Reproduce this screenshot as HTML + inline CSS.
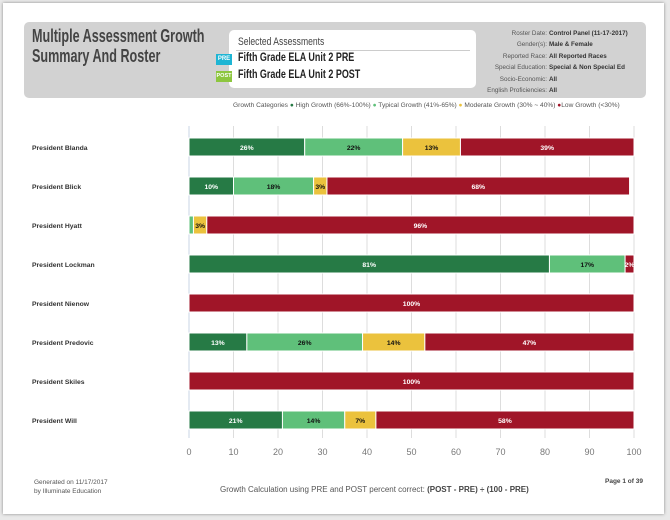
<!DOCTYPE html>
<html><head><meta charset="utf-8">
<style>
body{margin:0;width:670px;height:520px;background:#e9e9e9;font-family:"Liberation Sans",sans-serif;overflow:hidden;position:relative}
.page{position:absolute;left:3px;top:3px;width:661px;height:511px;background:#fff;box-shadow:0 0 3px #888}
.abs{position:absolute;white-space:nowrap}
.cond{transform-origin:0 0;transform:scaleX(0.78)}
</style></head><body>
<div class="page"></div>
<div class="abs" style="left:24px;top:22px;width:622px;height:76px;background:#d2d2d2;border-radius:5px"></div>
<div class="abs cond" style="left:32px;top:26px;font-size:18px;font-weight:bold;color:#444;line-height:20px;transform:scaleX(0.7)">Multiple Assessment Growth<br>Summary And Roster</div>
<div class="abs" style="left:229px;top:30px;width:247px;height:58px;background:#fff;border-radius:5px"></div>
<div class="abs" style="left:236px;top:50px;width:234px;height:1px;background:#ccc"></div>
<div class="abs cond" style="left:238px;top:36px;font-size:11px;color:#444">Selected Assessments</div>
<div class="abs" style="left:216px;top:54px;width:16px;height:11px;background:#1eb5d4;color:#fff;font-size:6px;font-weight:bold;text-align:center;line-height:11px">PRE</div>
<div class="abs cond" style="left:238px;top:52px;font-size:11.5px;font-weight:bold;color:#222">Fifth Grade ELA Unit 2 PRE</div>
<div class="abs" style="left:216px;top:71px;width:16px;height:11px;background:#8dc63f;color:#fff;font-size:5.5px;font-weight:bold;text-align:center;line-height:11px">POST</div>
<div class="abs cond" style="left:238px;top:69px;font-size:11.5px;font-weight:bold;color:#222">Fifth Grade ELA Unit 2 POST</div>
<div class="abs" style="left:440px;top:28px;width:210px;font-size:6.3px;color:#555;line-height:11.4px">
<div style="display:flex"><span style="width:107px;text-align:right">Roster Date:</span><b style="color:#333;margin-left:2px">Control Panel (11-17-2017)</b></div>
<div style="display:flex"><span style="width:107px;text-align:right">Gender(s):</span><b style="color:#333;margin-left:2px">Male &amp; Female</b></div>
<div style="display:flex"><span style="width:107px;text-align:right">Reported Race:</span><b style="color:#333;margin-left:2px">All Reported Races</b></div>
<div style="display:flex"><span style="width:107px;text-align:right">Special Education:</span><b style="color:#333;margin-left:2px">Special &amp; Non Special Ed</b></div>
<div style="display:flex"><span style="width:107px;text-align:right">Socio-Economic:</span><b style="color:#333;margin-left:2px">All</b></div>
<div style="display:flex"><span style="width:107px;text-align:right">English Proficiencies:</span><b style="color:#333;margin-left:2px">All</b></div>
</div>
<div class="abs" style="left:233px;top:102px;font-size:6.6px;color:#555">Growth Categories <span style="color:#267a45">●</span> High Growth (66%-100%) <span style="color:#5fc07a">●</span> Typical Growth (41%-65%) <span style="color:#ebc23d">●</span> Moderate Growth (30% ~ 40%) <span style="color:#a01528">●</span>Low Growth (&lt;30%)</div>
<svg class="abs" style="left:0;top:0" width="670" height="520" id="chart"></svg>
<div class="abs" style="left:34px;top:478px;font-size:6.5px;color:#555;line-height:9px">Generated on 11/17/2017<br>by Illuminate Education</div>
<div class="abs" style="left:220px;top:485px;font-size:8px;color:#555">Growth Calculation using PRE and POST percent correct: <b style="color:#444">(POST - PRE) ÷ (100 - PRE)</b></div>
<div class="abs" style="left:605px;top:478px;font-size:6.5px;color:#444;font-weight:bold">Page 1 of 39</div>
<script>
const students=["President Blanda","President Blick","President Hyatt","President Lockman","President Nienow","President Predovic","President Skiles","President Will"];
const highGrowth=[26,10,0,81,0,13,0,21];
const typicalGrowth=[22,18,1,17,0,26,0,14];
const moderateGrowth=[13,3,3,0,0,14,0,7];
const lowGrowth=[39,68,96,2,100,47,100,58];
const ticks=[0,10,20,30,40,50,60,70,80,90,100];
const colors=["#267a45","#5fc07a","#ebc23d","#a01528"];
const textColors=["#fff","#111","#111","#fff"];
const svg=document.getElementById('chart');
const NS="http://www.w3.org/2000/svg";
const x=v=>189+v*4.45;
const y=i=>147+i*39;
const top0=126,bot=438;
function mk(t,a){const e=document.createElementNS(NS,t);for(const k in a)e.setAttribute(k,a[k]);svg.appendChild(e);return e;}
ticks.forEach(t=>{
 const l=mk('line',{x1:x(t),x2:x(t),y1:top0,y2:bot,stroke:t==0?'#c8d4e4':'#ddd','stroke-width':1});
 
 
 const tx=mk('text',{x:x(t),y:455,'text-anchor':'middle','font-size':9,fill:'#777','font-family':'Liberation Sans, sans-serif'});
 tx.textContent=t;
 
 
});
const series=[highGrowth,typicalGrowth,moderateGrowth,lowGrowth];
students.forEach((s,i)=>{
 const lb=mk('text',{x:32,y:y(i)+3,'font-size':6.8,'font-weight':'bold',fill:'#333','font-family':'Liberation Sans, sans-serif'});
 lb.textContent=s;
 
 
 let acc=0;
 series.forEach((arr,k)=>{
  const v=arr[i]; if(!v){return;}
  const r=mk('rect',{x:x(acc),y:y(i)-9,width:v*4.45,height:18,fill:colors[k],stroke:'#fff','stroke-width':1});
  
  
  if(v>=2){
   const t=mk('text',{x:x(acc+v/2),y:y(i)+3,'text-anchor':'middle','font-size':6.8,'font-weight':'bold',fill:textColors[k],'font-family':'Liberation Sans, sans-serif'});
   t.textContent=v+'%';
   
   
  }
  acc+=v;
 });
});
</script>
</body></html>
